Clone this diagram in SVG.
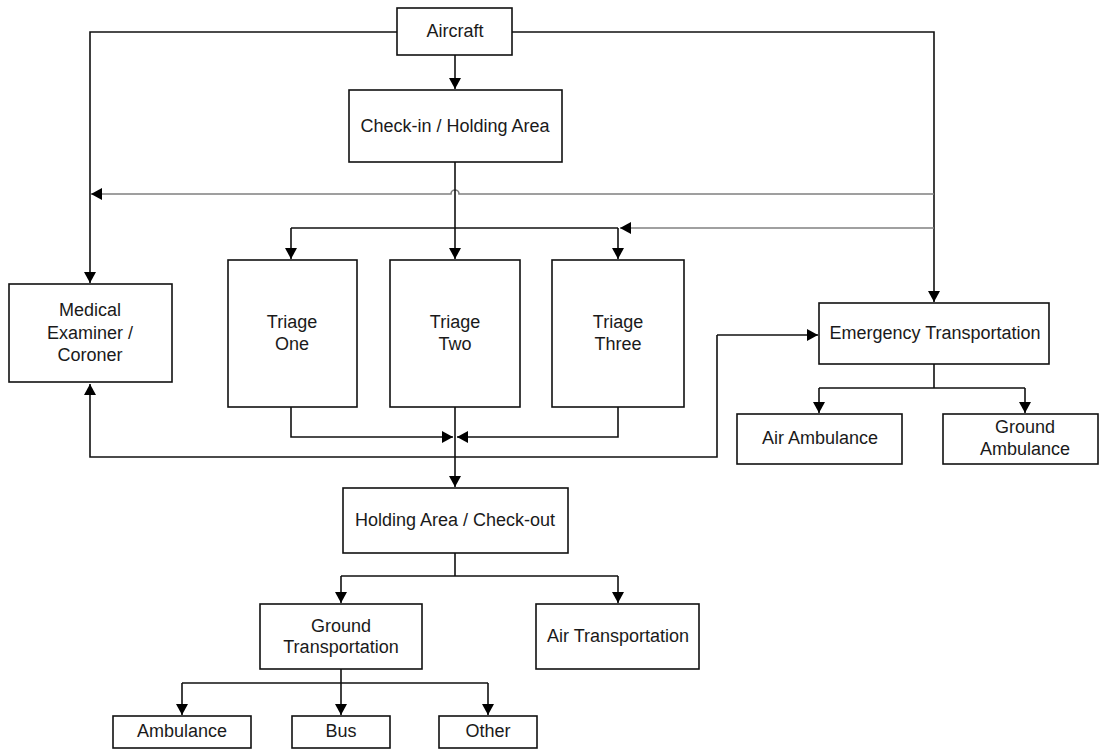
<svg xmlns="http://www.w3.org/2000/svg" width="1100" height="750" viewBox="0 0 1100 750">
<style>
.box{fill:#fff;stroke:#111;stroke-width:1.6}
.lbl{font-family:"Liberation Sans",Arial,sans-serif;font-size:18px;fill:#1a1a1a;text-anchor:middle}
.c{fill:none;stroke:#111;stroke-width:1.6}
.g{fill:none;stroke:#808080;stroke-width:1.6}
</style>
<defs>
<marker id="ah" markerUnits="userSpaceOnUse" markerWidth="12" markerHeight="12" refX="11" refY="6" orient="auto">
<path d="M0,0 L11,6 L0,12 z" fill="#000"/>
</marker>
</defs>
<rect width="1100" height="750" fill="#fff"/>
<g id="connectors">
<path class="c" d="M455,55 V89" marker-end="url(#ah)"/>
<path class="c" d="M397,32 H90 V283" marker-end="url(#ah)"/>
<path class="c" d="M512,32 H934 V302" marker-end="url(#ah)"/>
<path class="g" d="M934,194 H459 A4,4 0 0 0 451,194 H91" marker-end="url(#ah)"/>
<path class="g" d="M934,228 H620" marker-end="url(#ah)"/>
<path class="c" d="M291,228 H618"/>
<path class="c" d="M291,228 V259" marker-end="url(#ah)"/>
<path class="c" d="M618,228 V259" marker-end="url(#ah)"/>
<path class="c" d="M455,162 V259" marker-end="url(#ah)"/>
<path class="c" d="M291,407 V437 H453" marker-end="url(#ah)"/>
<path class="c" d="M618,407 V437 H457" marker-end="url(#ah)"/>
<path class="c" d="M455,407 V487" marker-end="url(#ah)"/>
<path class="c" d="M717,335 V457 H90 V384" marker-end="url(#ah)"/>
<path class="c" d="M717,335 H818" marker-end="url(#ah)"/>
<path class="c" d="M934,364 V388 M819,388 H1025"/>
<path class="c" d="M819,388 V413" marker-end="url(#ah)"/>
<path class="c" d="M1025,388 V413" marker-end="url(#ah)"/>
<path class="c" d="M455,553 V576 M341,576 H618"/>
<path class="c" d="M341,576 V603" marker-end="url(#ah)"/>
<path class="c" d="M618,576 V603" marker-end="url(#ah)"/>
<path class="c" d="M341,669 V683 M182,683 H488"/>
<path class="c" d="M182,683 V715" marker-end="url(#ah)"/>
<path class="c" d="M341,683 V715" marker-end="url(#ah)"/>
<path class="c" d="M488,683 V715" marker-end="url(#ah)"/>
</g>
<g id="aircraft"><rect class="box" x="397" y="8" width="115" height="47"/><text class="lbl" x="455" y="37">Aircraft</text></g>
<g id="checkin"><rect class="box" x="349" y="90" width="213" height="72"/><text class="lbl" x="455" y="132">Check-in / Holding Area</text></g>
<g id="medical"><rect class="box" x="9" y="284" width="163" height="98"/><text class="lbl" x="90" y="316">Medical</text><text class="lbl" x="90" y="339">Examiner /</text><text class="lbl" x="90" y="361">Coroner</text></g>
<g id="triage1"><rect class="box" x="228" y="260" width="129" height="147"/><text class="lbl" x="292" y="328">Triage</text><text class="lbl" x="292" y="350">One</text></g>
<g id="triage2"><rect class="box" x="390" y="260" width="130" height="147"/><text class="lbl" x="455" y="328">Triage</text><text class="lbl" x="455" y="350">Two</text></g>
<g id="triage3"><rect class="box" x="552" y="260" width="132" height="147"/><text class="lbl" x="618" y="328">Triage</text><text class="lbl" x="618" y="350">Three</text></g>
<g id="emergency"><rect class="box" x="819" y="303" width="230" height="61"/><text class="lbl" x="935" y="339">Emergency Transportation</text></g>
<g id="airamb"><rect class="box" x="737" y="414" width="165" height="50"/><text class="lbl" x="820" y="444">Air Ambulance</text></g>
<g id="groundamb"><rect class="box" x="943" y="414" width="155" height="50"/><text class="lbl" x="1025" y="433">Ground</text><text class="lbl" x="1025" y="455">Ambulance</text></g>
<g id="holding"><rect class="box" x="343" y="488" width="225" height="65"/><text class="lbl" x="455" y="526">Holding Area / Check-out</text></g>
<g id="groundtrans"><rect class="box" x="260" y="604" width="162" height="65"/><text class="lbl" x="341" y="632">Ground</text><text class="lbl" x="341" y="653">Transportation</text></g>
<g id="airtrans"><rect class="box" x="536" y="604" width="163" height="65"/><text class="lbl" x="618" y="642">Air Transportation</text></g>
<g id="ambulance"><rect class="box" x="113" y="716" width="138" height="32"/><text class="lbl" x="182" y="737">Ambulance</text></g>
<g id="bus"><rect class="box" x="292" y="716" width="98" height="32"/><text class="lbl" x="341" y="737">Bus</text></g>
<g id="other"><rect class="box" x="439" y="716" width="98" height="32"/><text class="lbl" x="488" y="737">Other</text></g>
</svg>
